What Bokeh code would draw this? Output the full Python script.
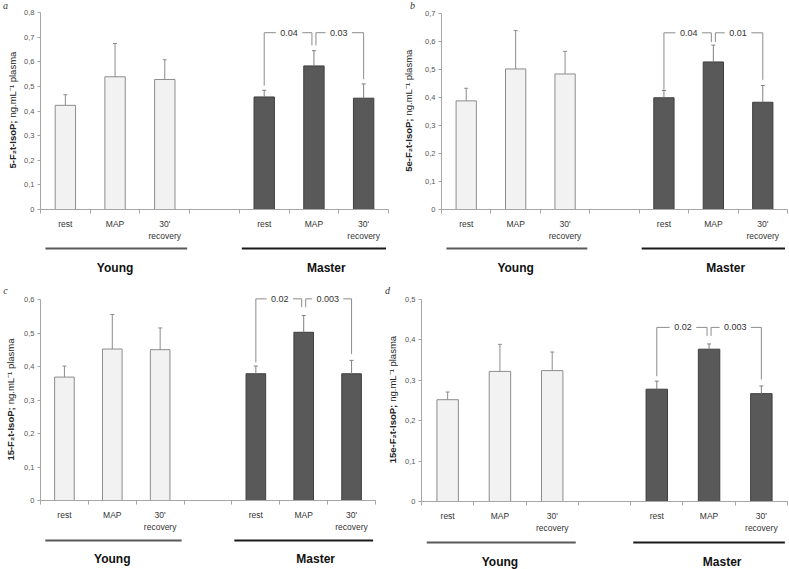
import math
from bokeh.plotting import figure
from bokeh.layouts import column, row
from bokeh.models import Range1d, FixedTicker, CustomJSTickFormatter
from bokeh.core.properties import value
from bokeh.embed import file_html
from bokeh.resources import INLINE

# ---------------- data ----------------
conditions = ["rest", "MAP", "30'\nrecovery"]
groups = ["Young", "Master"]
unit_text = "ng.mL⁻¹ plasma"

# panel a : 5-F2t-IsoP
a_title = "5-F₂t-IsoP;"
a_young_mean = [0.423, 0.539, 0.528]
a_young_err = [0.043, 0.135, 0.080]
a_master_mean = [0.457, 0.583, 0.452]
a_master_err = [0.027, 0.062, 0.058]
a_bracket = [0.718, 0.503, 0.666, 0.529]   # top, rest end, MAP end, 30' end
a_pvalues = ["0.04", "0.03"]

# panel b : 5e-F2t-IsoP
b_title = "5e-F₂t-IsoP;"
b_young_mean = [0.388, 0.502, 0.484]
b_young_err = [0.045, 0.137, 0.081]
b_master_mean = [0.399, 0.527, 0.383]
b_master_err = [0.026, 0.060, 0.060]
b_bracket = [0.631, 0.425, 0.598, 0.463]
b_pvalues = ["0.04", "0.01"]

# panel c : 15-F2t-IsoP
c_title = "15-F₂t-IsoP;"
c_young_mean = [0.369, 0.453, 0.451]
c_young_err = [0.033, 0.103, 0.065]
c_master_mean = [0.379, 0.503, 0.379]
c_master_err = [0.023, 0.050, 0.040]
c_bracket = [0.603, 0.413, 0.578, 0.438]
c_pvalues = ["0.02", "0.003"]

# panel d : 15e-F2t-IsoP
d_title = "15e-F₂t-IsoP;"
d_young_mean = [0.252, 0.322, 0.324]
d_young_err = [0.019, 0.067, 0.046]
d_master_mean = [0.278, 0.377, 0.267]
d_master_err = [0.020, 0.013, 0.019]
d_bracket = [0.431, 0.310, 0.410, 0.302]
d_pvalues = ["0.02", "0.003"]

# ---------------- styling / layout ----------------
FONT = "Liberation Sans"
YOUNG_X = [0.5, 1.5, 2.5]
MASTER_X = [4.5, 5.5, 6.5]
AXIS_COL = "#a6a6a6"
BOTTOM = 28
NORMAL_W = 60.0


def est_w(s, per=4.7):
    return sum(2.4 if ch == "." else per for ch in s)


def bare(width, height, xr, yr):
    f = figure(width=width, height=height, x_range=xr, y_range=yr,
               output_backend="svg", toolbar_location=None, min_border=0,
               min_border_left=0, min_border_right=0, min_border_top=0,
               min_border_bottom=0, x_axis_location=None, y_axis_location=None,
               outline_line_color=None, border_fill_color="white",
               background_fill_color="white")
    f.xgrid.visible = False
    f.ygrid.visible = False
    return f


def make_panel(title_bold, bold_w, ymax, yend, ym, ye, mm, me, br, pv,
               width, tw, tx, left, right, top, frame_h, strip_h,
               line_off, label_off, letter, letter_x, letter_top):
    mw = width - tw
    frame_w = mw - left - right
    slot = frame_w / 7.0
    ppu = frame_h / yend
    main_h = top + frame_h + BOTTOM
    p = figure(width=mw, height=main_h,
               x_range=Range1d(0, 7), y_range=Range1d(0, yend),
               output_backend="svg", toolbar_location=None,
               min_border=0, min_border_left=left, min_border_right=right,
               min_border_top=top, min_border_bottom=BOTTOM,
               outline_line_color=None, background_fill_color="white",
               border_fill_color="white")
    p.xgrid.visible = False
    p.ygrid.visible = False

    yax = p.yaxis[0]
    yax.ticker = FixedTicker(ticks=[round(i * 0.1, 1) for i in range(int(round(ymax * 10)) + 1)])
    yax.formatter = CustomJSTickFormatter(
        code="return tick == 0 ? '0' : tick.toFixed(1).replace('.', ',');")
    yax.bounds = (0, ymax)
    yax.axis_line_color = AXIS_COL
    yax.major_tick_line_color = AXIS_COL
    yax.major_tick_out = 3
    yax.major_tick_in = 0
    yax.minor_tick_line_color = None
    yax.major_label_text_font = FONT
    yax.major_label_text_font_size = "7.5px"
    yax.major_label_text_color = "#555555"
    yax.major_label_standoff = 3

    xax = p.xaxis[0]
    xax.ticker = FixedTicker(ticks=YOUNG_X + MASTER_X, minor_ticks=list(range(8)))
    xax.major_label_overrides = {x: lab for x, lab in zip(YOUNG_X + MASTER_X, conditions * 2)}
    xax.major_tick_line_color = None
    xax.major_tick_out = 0
    xax.major_tick_in = 0
    xax.minor_tick_out = 4
    xax.minor_tick_in = 0
    xax.minor_tick_line_color = AXIS_COL
    xax.axis_line_color = AXIS_COL
    xax.major_label_text_font = FONT
    xax.major_label_text_font_size = "8.5px"
    xax.major_label_text_color = "#333333"
    xax.major_label_standoff = 5

    # bars
    p.vbar(x=YOUNG_X, top=ym, width=0.41, fill_color="#f2f2f2",
           line_color="#8c8c8c", line_width=1)
    p.vbar(x=MASTER_X, top=mm, width=0.41, fill_color="#595959",
           line_color="#3f3f3f", line_width=1)

    # error bars (upper only)
    cap = 2.0 / slot
    for xs, m, e, col in [(YOUNG_X, ym, ye, "#8c8c8c"), (MASTER_X, mm, me, "#808080")]:
        tops = [a + b for a, b in zip(m, e)]
        p.segment(x0=xs, y0=m, x1=xs, y1=tops, line_color=col, line_width=1)
        p.segment(x0=[x - cap for x in xs], y0=tops, x1=[x + cap for x in xs], y1=tops,
                  line_color=col, line_width=1)

    # significance brackets
    btop, lo_rest, lo_map, lo_rec = br
    c0, c1, c2 = MASTER_X
    d = 2.0 / slot
    tx1, tx2 = (c0 + c1) / 2, (c1 + c2) / 2
    g1 = (est_w(pv[0]) / 2 + 5) / slot
    g2 = (est_w(pv[1]) / 2 + 5) / slot
    xs = [[c0, c0, tx1 - g1], [tx1 + g1, c1 - d, c1 - d],
          [c1 + d, c1 + d, tx2 - g2], [tx2 + g2, c2, c2]]
    ys = [[lo_rest, btop, btop], [btop, btop, lo_map],
          [lo_map, btop, btop], [btop, btop, lo_rec]]
    p.multi_line(xs=xs, ys=ys, line_color="#8c8c8c", line_width=1)
    p.text(x=[tx1, tx2], y=[btop, btop], text=pv, text_align="center",
           text_baseline="middle", text_font=value(FONT), text_font_size="9px",
           text_color="#333333")

    # strip with group lines and names
    s = bare(mw, strip_h, p.x_range, Range1d(0, strip_h))
    s.min_border_left = left
    s.min_border_right = right
    yl = strip_h - line_off
    yt = strip_h - label_off
    s.segment(x0=[0.1, 4.05], x1=[2.95, 6.95], y0=[yl, yl], y1=[yl, yl],
              line_color=["#595959", "#1a1a1a"], line_width=2)
    s.text(x=[1.5, 5.75], y=[yt, yt], text=groups,
           text_align="center", text_baseline="middle", text_font=value(FONT),
           text_font_style="bold", text_font_size="12px", text_color="#111111")

    # left strip with the rotated y-axis title and the panel letter
    H = main_h + strip_h
    t = bare(tw, H, Range1d(0, tw), Range1d(0, H))
    y_center = strip_h + BOTTOM + (ymax / 2.0) * ppu
    J = y_center - (NORMAL_W - bold_w) / 2.0
    t.text(x=[tx], y=[J], text=[title_bold], angle=math.pi / 2,
           text_align="right", text_baseline="middle", text_font=value(FONT),
           text_font_style="bold", text_font_size="9.5px", text_color="#222222")
    t.text(x=[tx], y=[J + 3], text=[unit_text], angle=math.pi / 2,
           text_align="left", text_baseline="middle", text_font=value(FONT),
           text_font_size="9.5px", text_color="#222222")
    t.text(x=[letter_x], y=[H - letter_top], text=[letter], text_align="center",
           text_baseline="middle", text_font=value("Liberation Serif"),
           text_font_style="italic", text_font_size="10px", text_color="#333333")

    return row(t, column(p, s))


panel_a = make_panel(a_title, 47.0, 0.8, 0.8, a_young_mean, a_young_err,
                     a_master_mean, a_master_err, a_bracket, a_pvalues,
                     390, 20, 12, 20, 2, 12, 203, 42, 5, 24, "a", 5, 5)
panel_b = make_panel(b_title, 52.0, 0.7, 0.7, b_young_mean, b_young_err,
                     b_master_mean, b_master_err, b_bracket, b_pvalues,
                     399, 26, 18, 25, 2, 13, 202, 42, 5, 24, "b", 22, 5)
panel_c = make_panel(c_title, 52.0, 0.6, 0.625, c_young_mean, c_young_err,
                     c_master_mean, c_master_err, c_bracket, c_pvalues,
                     380, 18, 10, 22, 5, 6, 215, 35, 6, 24, "c", 5, 5)
panel_d = make_panel(d_title, 57.5, 0.5, 0.5, d_young_mean, d_young_err,
                     d_master_mean, d_master_err, d_bracket, d_pvalues,
                     409, 20, 12, 21, 2, 14, 208, 34, 7, 26, "d", 7, 5)

layout = column(row(panel_a, panel_b), row(panel_c, panel_d))

open("out.html", "w").write(file_html(layout, INLINE))
